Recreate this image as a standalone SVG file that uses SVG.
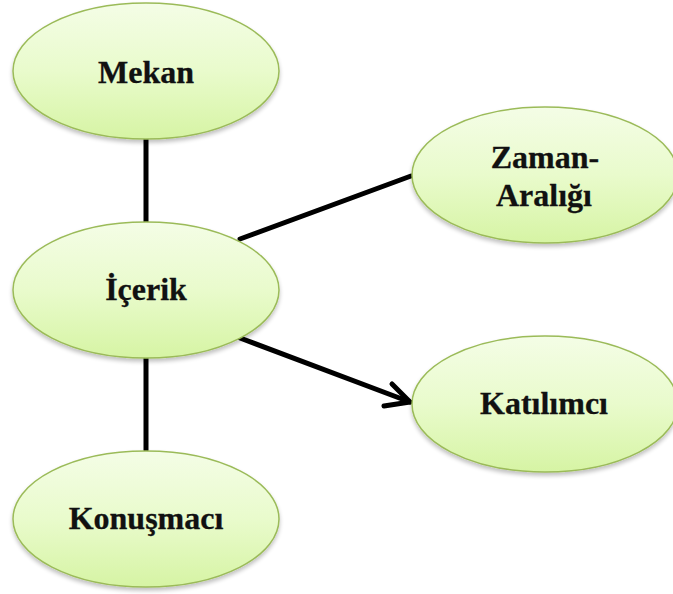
<svg xmlns="http://www.w3.org/2000/svg" width="673" height="594" viewBox="0 0 673 594">
<defs>
<linearGradient id="g" x1="0" y1="0" x2="0" y2="1">
<stop offset="0" stop-color="#f4fde6"/>
<stop offset="0.5" stop-color="#e9fbcc"/>
<stop offset="1" stop-color="#d6f4a4"/>
</linearGradient>
<filter id="sh" x="-10%" y="-10%" width="120%" height="130%">
<feGaussianBlur in="SourceAlpha" stdDeviation="2"/>
<feOffset dx="0" dy="3" result="b"/>
<feComponentTransfer><feFuncA type="linear" slope="0.25"/></feComponentTransfer>
<feMerge><feMergeNode/><feMergeNode in="SourceGraphic"/></feMerge>
</filter>
</defs>
<style>
.n{fill:url(#g);stroke:#9bbb59;stroke-width:1.5;filter:url(#sh)}
.t{font-family:"Liberation Serif","Times New Roman",serif;font-weight:bold;font-size:32px;fill:#111;text-anchor:middle;stroke:#111;stroke-width:0.3}
.c{stroke:#000;stroke-width:5;fill:none;stroke-linecap:round;stroke-linejoin:round}
</style>
<rect width="673" height="594" fill="#fff"/>
<g id="connectors">
<line class="c" x1="146" y1="139" x2="146" y2="222"/>
<line class="c" x1="146" y1="358" x2="146" y2="450"/>
<line class="c" x1="240" y1="239" x2="411" y2="176"/>
<line class="c" x1="240" y1="338" x2="410" y2="402"/>
<polyline class="c" points="392,384 410,402 384,406"/>
</g>
<g id="mekan">
<ellipse class="n" cx="146" cy="71" rx="133" ry="68"/>
<text class="t" x="146" y="83">Mekan</text>
</g>
<g id="icerik">
<ellipse class="n" cx="146" cy="290" rx="133" ry="68"/>
<text class="t" x="146" y="300">İçerik</text>
</g>
<g id="konusmaci">
<ellipse class="n" cx="146" cy="519" rx="133" ry="68"/>
<text class="t" x="146" y="529">Konuşmacı</text>
</g>
<g id="zaman">
<ellipse class="n" cx="545" cy="175" rx="133" ry="68"/>
<text class="t" x="545" y="168">Zaman-</text>
<text class="t" x="544" y="206">Aralığı</text>
</g>
<g id="katilimci">
<ellipse class="n" cx="545" cy="404" rx="133" ry="68"/>
<text class="t" x="544" y="414">Katılımcı</text>
</g>
</svg>
